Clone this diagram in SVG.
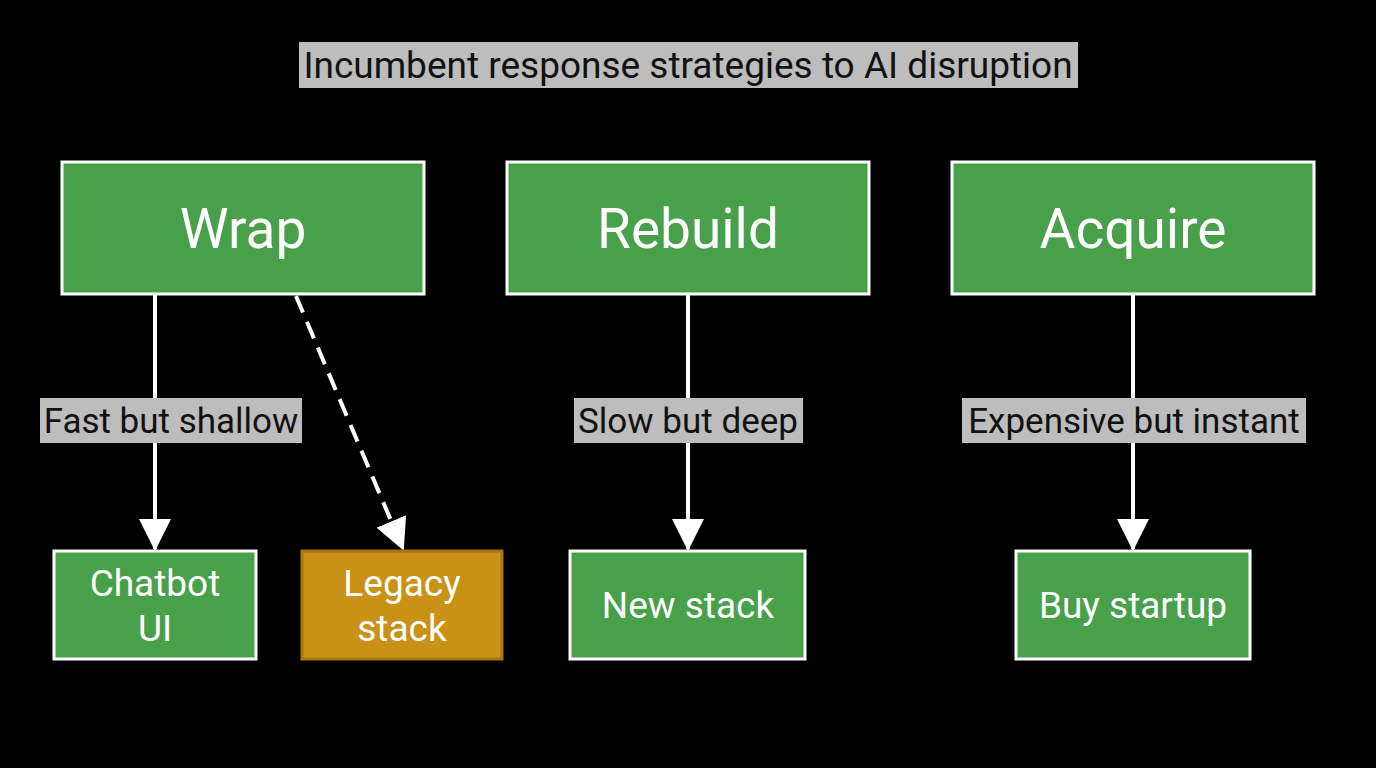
<svg xmlns="http://www.w3.org/2000/svg" width="1376" height="768" viewBox="0 0 1376 768">
<style>
text{font-family:Roboto,"Liberation Sans",sans-serif;text-anchor:middle}
.n{fill:#48a04b;stroke:#fff;stroke-width:3}
.t{fill:#fff}
.lb{fill:#bdbdbd}
.lt{fill:#111;font-size:35px}
.c{stroke:#fff;stroke-width:4;fill:none;marker-end:url(#a)}
</style>
<defs><marker id="a" markerWidth="8" markerHeight="8" refX="7.5" refY="4" orient="auto" markerUnits="strokeWidth"><path d="M0,0L8,4L0,8z" fill="#fff"/></marker></defs>
<rect width="1376" height="768" fill="#000"/>
<g id="title"><rect x="299" y="42" width="779" height="46" class="lb"/><text x="688" y="78" class="lt" style="font-size:37px">Incumbent response strategies to AI disruption</text></g>
<g id="connectors">
<line x1="155" y1="295" x2="155" y2="549" class="c"/>
<line x1="296" y1="296" x2="403" y2="549" class="c" stroke-dasharray="18,10"/>
<line x1="688" y1="295" x2="688" y2="549" class="c"/>
<line x1="1133" y1="295" x2="1133" y2="549" class="c"/>
<rect x="40" y="398" width="262" height="45" class="lb"/><text x="171" y="433" class="lt">Fast but shallow</text>
<rect x="574" y="398" width="229" height="45" class="lb"/><text x="688" y="433" class="lt">Slow but deep</text>
<rect x="962" y="398" width="344" height="45" class="lb"/><text x="1134" y="433" class="lt">Expensive but instant</text>
</g>
<g id="wrap"><rect x="62" y="162" width="362" height="132" class="n"/><text x="243" y="248" class="t" font-size="55">Wrap</text></g>
<g id="rebuild"><rect x="507" y="162" width="362" height="132" class="n"/><text x="688" y="248" class="t" font-size="55">Rebuild</text></g>
<g id="acquire"><rect x="952" y="162" width="362" height="132" class="n"/><text x="1133" y="248" class="t" font-size="55">Acquire</text></g>
<g id="chatbot"><rect x="54" y="551" width="202" height="108" class="n"/><text x="155" y="596" class="t" font-size="37">Chatbot</text><text x="155" y="641" class="t" font-size="37">UI</text></g>
<g id="legacy"><rect x="302" y="551" width="200" height="108" fill="#c99116" stroke="#a8760e" stroke-width="3"/><text x="402" y="596" class="t" font-size="37">Legacy</text><text x="402" y="641" class="t" font-size="37">stack</text></g>
<g id="newstack"><rect x="570" y="551" width="235" height="108" class="n"/><text x="688" y="618" class="t" font-size="37">New stack</text></g>
<g id="buy"><rect x="1016" y="551" width="234" height="108" class="n"/><text x="1133" y="618" class="t" font-size="37">Buy startup</text></g>
</svg>
